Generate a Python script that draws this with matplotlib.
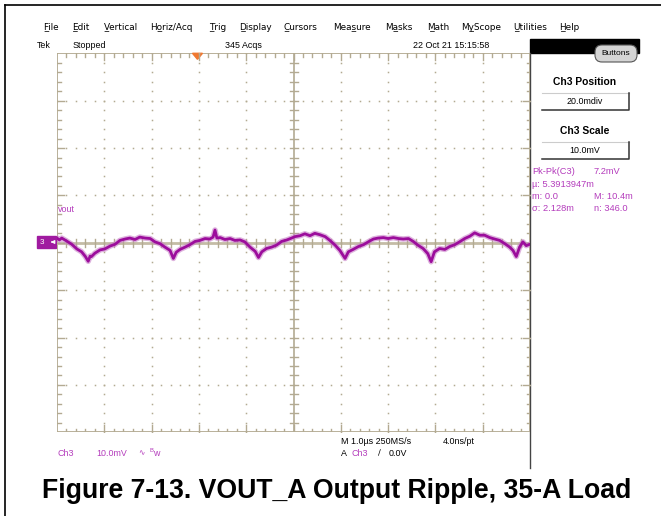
import numpy as np
import matplotlib
matplotlib.use("Agg")
import matplotlib.pyplot as plt
from matplotlib.patches import Rectangle, FancyBboxPatch, Polygon

# trace of Ch3: time in us, voltage in mV (10 mV/div)
time_us = [0.00, 0.05, 0.10, 0.20, 0.31, 0.42, 0.52, 0.60, 0.66, 0.70, 0.73, 0.80, 0.91, 1.01,
           1.12, 1.23, 1.33, 1.44, 1.54, 1.65, 1.75, 1.86, 1.97, 2.07, 2.18, 2.28, 2.39, 2.46,
           2.52, 2.60, 2.71, 2.81, 2.92, 3.02, 3.13, 3.23, 3.30, 3.34, 3.38, 3.45, 3.55, 3.66,
           3.76, 3.87, 3.97, 4.08, 4.19, 4.26, 4.33, 4.43, 4.54, 4.64, 4.75, 4.86, 4.96, 5.03,
           5.14, 5.24, 5.35, 5.45, 5.56, 5.67, 5.77, 5.88, 5.98, 6.09, 6.16, 6.26, 6.37, 6.48,
           6.58, 6.69, 6.79, 6.90, 7.00, 7.11, 7.22, 7.32, 7.43, 7.53, 7.63, 7.74, 7.84, 7.91,
           7.98, 8.09, 8.20, 8.30, 8.41, 8.51, 8.62, 8.73, 8.83, 8.94, 9.04, 9.15, 9.25, 9.36,
           9.47, 9.57, 9.64, 9.71, 9.78, 9.85, 9.92, 10.0]
vout_mv = [1.0, 0.6, 1.0, 0.4, -0.3, -1.3, -1.9, -2.9, -3.9, -2.8, -2.9, -2.2, -1.5, -1.3,
           -0.7, -0.3, 0.5, 0.8, 1.0, 0.7, 1.2, 1.0, 0.9, 0.2, -0.2, -0.9, -1.6, -3.3,
           -2.0, -1.4, -0.9, -0.4, 0.3, 0.5, 0.9, 0.8, 1.2, 2.7, 1.0, 1.1, 0.7, 0.9,
           0.5, 0.6, 0.2, -0.9, -1.8, -3.1, -1.9, -1.2, -0.9, -0.5, 0.3, 0.6, 1.0, 1.3,
           1.5, 1.9, 1.5, 2.0, 1.7, 1.3, 0.5, -0.5, -1.6, -3.3, -1.9, -1.4, -0.8, -0.4,
           0.2, 0.8, 1.0, 1.1, 0.9, 1.1, 0.9, 0.8, 0.9, 0.3, -0.5, -1.2, -2.3, -4.0,
           -1.9, -1.2, -1.4, -0.8, -0.4, 0.2, 0.9, 1.4, 2.1, 1.6, 1.6, 1.1, 0.8, 0.5,
           -0.2, -0.9, -1.6, -2.9, -0.9, 0.2, -0.6, -0.3]

menu_items = ["File", "Edit", "Vertical", "Horiz/Acq", "Trig", "Display", "Cursors",
              "Measure", "Masks", "Math", "MyScope", "Utilities", "Help"]
menu_underline = [0, 0, 0, 1, 0, 0, 0, 3, 1, 0, 1, 0, 0]
menu_x = [43, 72, 104, 150, 209, 239, 283, 333, 385, 427, 461, 513, 559]

meas_left = ["Pk-Pk(C3)", "\u00b5: 5.3913947m", "m: 0.0", "\u03c3: 2.128m"]
meas_right = ["7.2mV", "", "M: 10.4m", "n: 346.0"]
trigger_us = 2.97

W, H = 661, 516
grid_c = "#b3aa92"
trace_c = "#9c0d9c"
mag_c = "#b43cbc"
ui_font = "Liberation Sans"

fig = plt.figure(figsize=(W / 100, H / 100), dpi=100)
fig.patch.set_facecolor("white")

# overlay in pixel coordinates for the screen furniture
bg = fig.add_axes([0, 0, 1, 1])
bg.set_xlim(0, W)
bg.set_ylim(H, 0)
bg.axis("off")

bg.plot([5, W], [5, 5], color="black", lw=1.2)
bg.plot([5, 5], [5, H], color="black", lw=1.2)

for name, ul, x in zip(menu_items, menu_underline, menu_x):
    label = name[:ul + 1] + "\u0332" + name[ul + 1:]
    bg.text(x, 27, label, fontsize=6.4, family=["DejaVu Sans"], va="center", ha="left")

bg.text(37, 45.5, "Tek", fontsize=6.4, family=ui_font, va="center")
bg.text(73, 45.5, "Stopped", fontsize=6.4, family=ui_font, va="center")
bg.text(225, 45.5, "345 Acqs", fontsize=6.4, family=ui_font, va="center")
bg.text(413, 45.5, "22 Oct 21 15:15:58", fontsize=6.4, family=ui_font, va="center")

# right side panel
bg.add_patch(Rectangle((530, 39), 109, 14, color="black"))
bg.add_patch(FancyBboxPatch((595, 45), 42, 17, boxstyle="round,pad=0,rounding_size=7",
                            fc="#d4d4d4", ec="#555555", lw=0.8))
bg.text(616, 53.5, "Buttons", fontsize=6.0, family=ui_font, ha="center", va="center")
bg.plot([530, 530], [53, 468], color="#444444", lw=1.0)

for title, val, ty, by in [("Ch3 Position", "20.0mdiv", 82, 93), ("Ch3 Scale", "10.0mV", 131, 142)]:
    bg.text(585, ty, title, fontsize=7.4, family=ui_font, weight="bold", ha="center", va="center")
    bg.plot([542, 629], [by, by], color="#cccccc", lw=0.8)
    bg.plot([542, 629, 629], [by + 17, by + 17, by], color="#333333", lw=1.1)
    bg.text(585, by + 8.5, val, fontsize=6.4, family=ui_font, ha="center", va="center")

for i, (l, r) in enumerate(zip(meas_left, meas_right)):
    y = 172 + i * 12.3
    bg.text(532, y, l, fontsize=6.7, family=ui_font, color=mag_c, va="center")
    if r:
        bg.text(594, y, r, fontsize=6.7, family=ui_font, color=mag_c, va="center")

# bottom readouts
bg.text(57, 453, "Ch3", fontsize=6.4, family=ui_font, color=mag_c, va="center")
bg.text(96, 453, "10.0mV", fontsize=6.4, family=ui_font, color=mag_c, va="center")
bg.text(138, 453, "\u223f", fontsize=5.5, family=["DejaVu Sans"], color=mag_c, va="center")
bg.text(149, 451, "B", fontsize=4.2, family=ui_font, color=mag_c, va="center")
bg.text(153, 453.5, "w", fontsize=6.4, family=ui_font, color=mag_c, va="center")
bg.text(341, 441.5, "M 1.0\u00b5s 250MS/s", fontsize=6.4, family=ui_font, va="center")
bg.text(443, 441.5, "4.0ns/pt", fontsize=6.4, family=ui_font, va="center")
bg.text(341, 453, "A", fontsize=6.4, family=ui_font, va="center")
bg.text(352, 453, "Ch3", fontsize=6.4, family=ui_font, color=mag_c, va="center")
bg.text(378, 453, "\u2215", fontsize=6, family=["DejaVu Sans"], va="center")
bg.text(389, 453, "0.0V", fontsize=6.4, family=ui_font, va="center")

# channel marker and label
bg.add_patch(Rectangle((37, 236), 19, 12, color="#a01aa0"))
bg.text(42, 242.2, "3", fontsize=5.8, family=ui_font, color="white", ha="center", va="center")
bg.annotate("", xy=(48, 242), xytext=(55, 242),
            arrowprops=dict(arrowstyle="-|>", color="white", lw=0.8, mutation_scale=5))
bg.text(58, 209, "vout", fontsize=6.4, family=ui_font, color=mag_c, va="center")

bg.text(337, 491, "Figure 7-13. VOUT_A Output Ripple, 35-A Load", fontsize=19.2,
        family=ui_font, weight="bold", ha="center", va="center")

# graticule
ax = fig.add_axes([57 / W, 1 - 432.3 / H, 473 / W, 379 / H])
ax.set_xlim(0, 10)
ax.set_ylim(-40, 40)
ax.axis("off")

ax.add_patch(Rectangle((0, -40), 10, 80, fill=False, ec=grid_c, lw=1.3))
ax.axhline(0, color="#c4bca6", lw=2.0)
ax.axvline(5, color=grid_c, lw=1.2)

fine_x = np.arange(0, 10.01, 0.2)
fine_y = np.arange(-40, 40.01, 2)
for gx in [1, 2, 3, 4, 6, 7, 8, 9]:
    ax.plot(np.full_like(fine_y, gx), fine_y, ls="none", marker="s", ms=1.1, color=grid_c, mec="none")
for gy in [-30, -20, -10, 10, 20, 30]:
    ax.plot(fine_x, np.full_like(fine_x, gy), ls="none", marker="s", ms=1.1, color=grid_c, mec="none")

px_x = 10 / 473
px_y = 80 / 379
for x in fine_x[1:-1]:
    major = abs(x - round(x)) < 1e-6
    L = (7 if major else 3.5) * px_y
    ax.plot([x, x], [40, 40 - L], color=grid_c, lw=1.0)
    ax.plot([x, x], [-40, -40 + L], color=grid_c, lw=1.0)
    ax.plot([x, x], [-4 * px_y, 4 * px_y], color=grid_c, lw=1.0)
for y in fine_y[1:-1]:
    major = abs(y / 10 - round(y / 10)) < 1e-6
    L = (7 if major else 3.5) * px_x
    ax.plot([0, L], [y, y], color=grid_c, lw=1.0)
    ax.plot([10, 10 - L], [y, y], color=grid_c, lw=1.0)
    ax.plot([5 - 4 * px_x, 5 + 4 * px_x], [y, y], color=grid_c, lw=1.0)

ax.add_patch(Polygon([[trigger_us - 5 * px_x, 40], [trigger_us + 5 * px_x, 40],
                      [trigger_us, 40 - 6 * px_y]], closed=True, color="#f07830", clip_on=False))

ax.plot(time_us, vout_mv, color="#c880c8", lw=4.0, alpha=0.6)
ax.plot(time_us, vout_mv, color=trace_c, lw=2.0)

fig.savefig("out.png", dpi=100, facecolor="white")
